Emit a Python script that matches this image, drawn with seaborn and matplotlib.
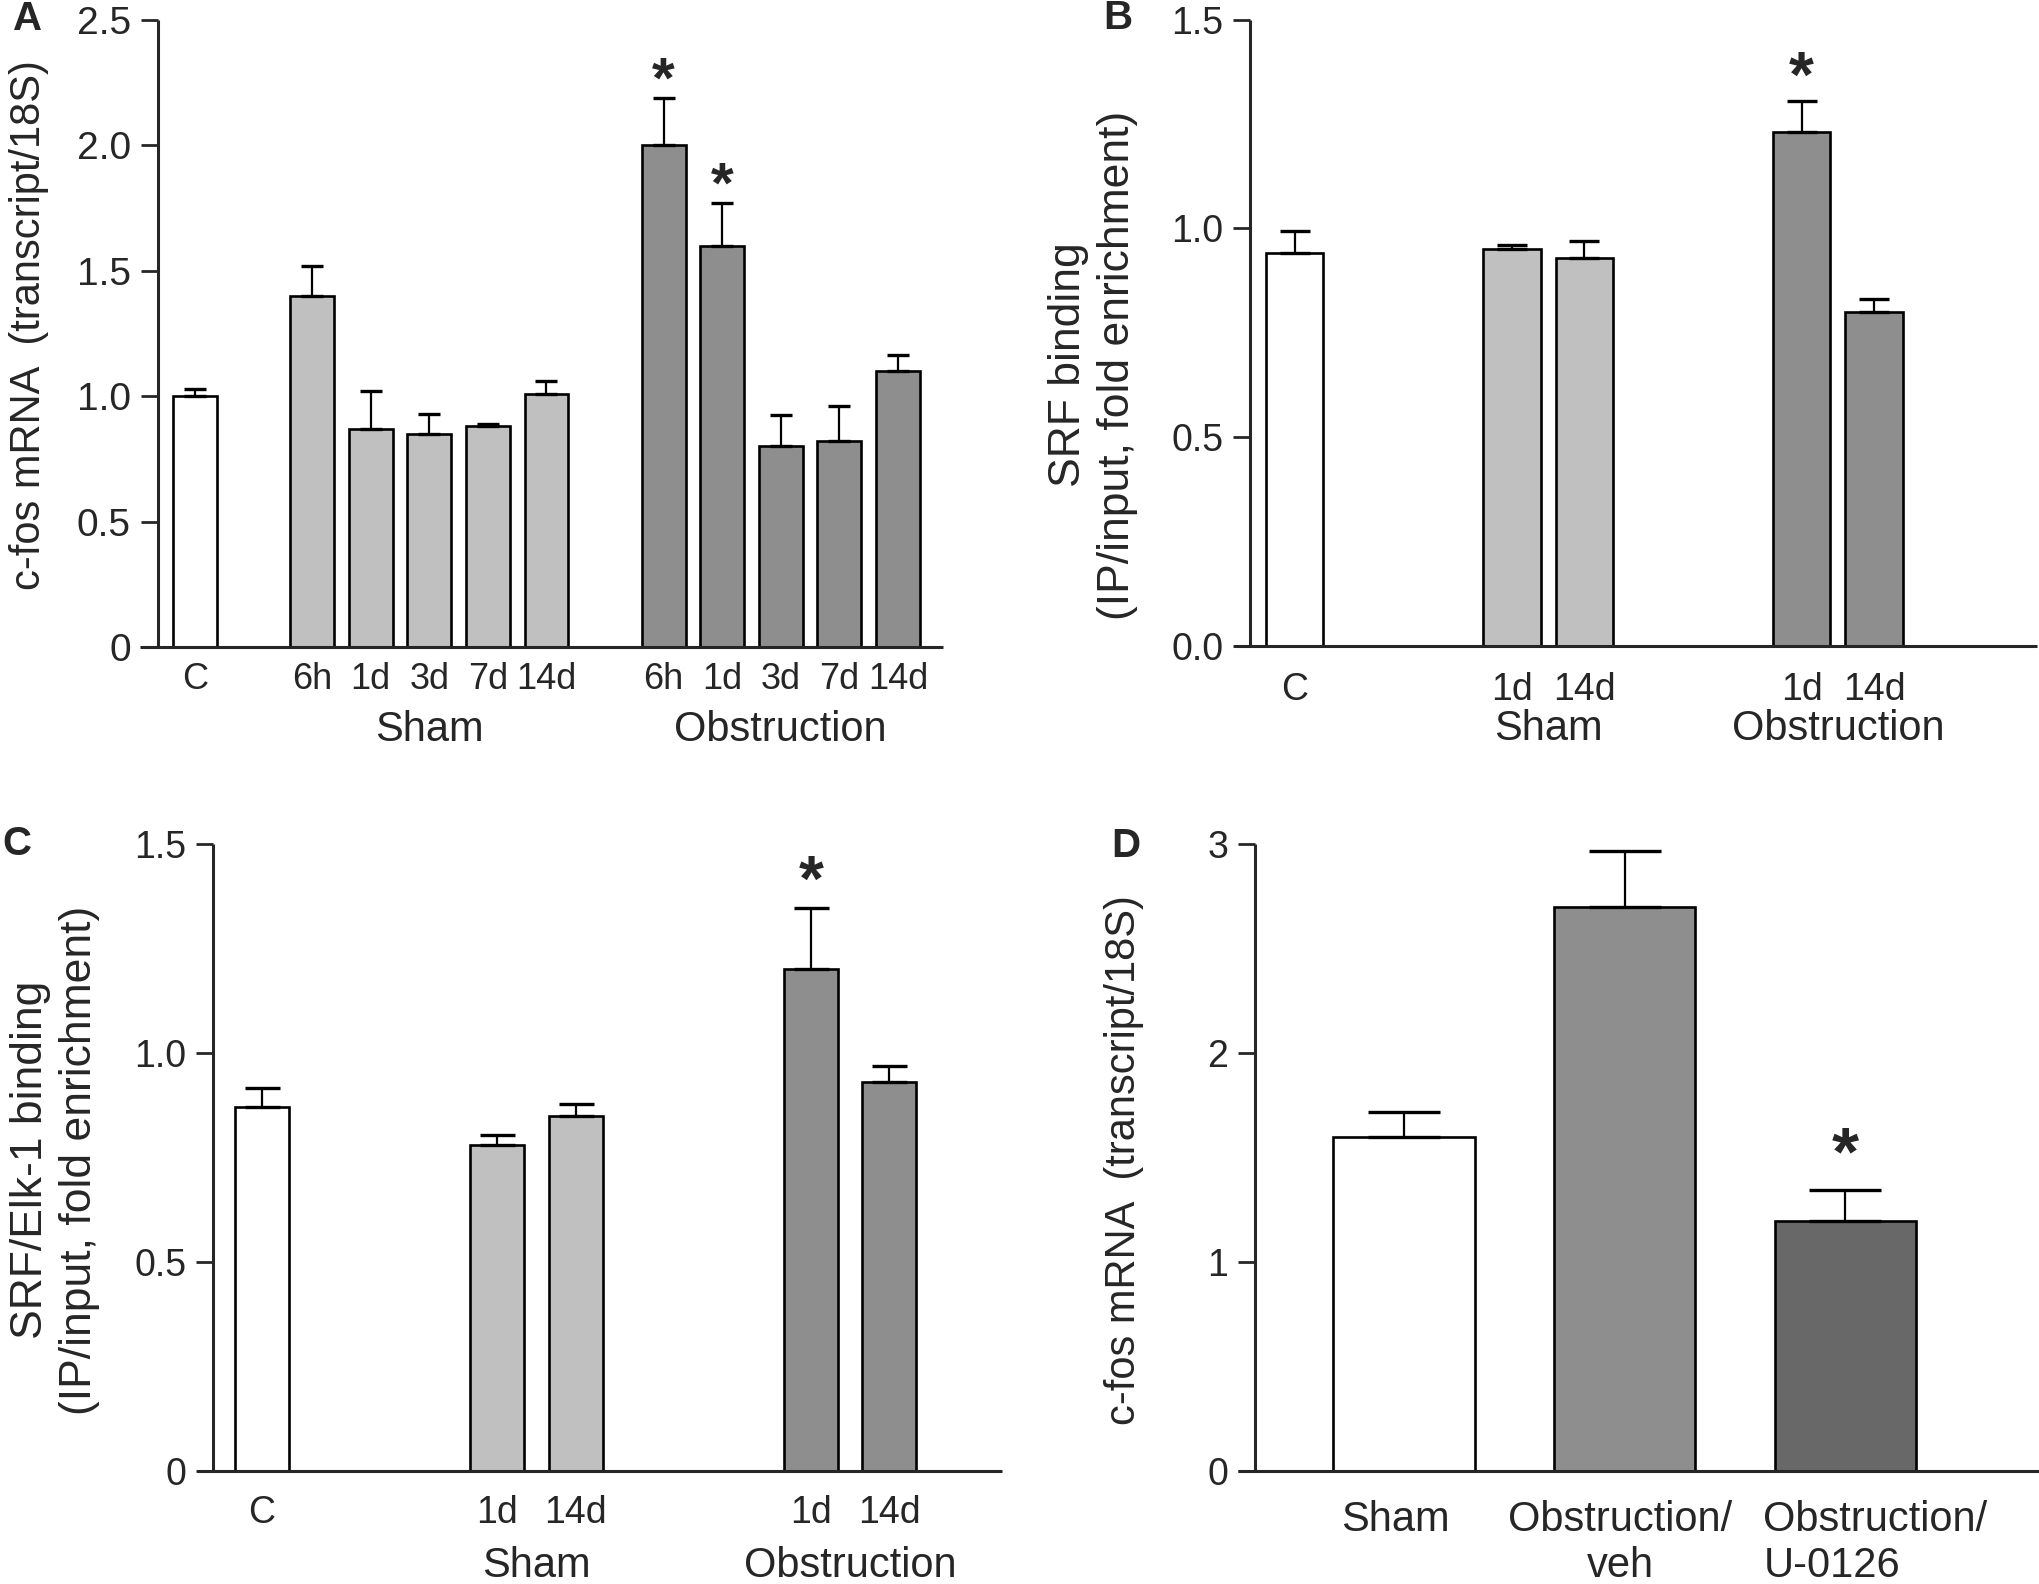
import numpy as np
import pandas as pd
import matplotlib
matplotlib.use("Agg")
import matplotlib.pyplot as plt
import seaborn as sns

# ---------------- data ----------------
# Panel A: c-fos mRNA
a_groups = ["C", "Sham", "Sham", "Sham", "Sham", "Sham",
            "Obstruction", "Obstruction", "Obstruction", "Obstruction", "Obstruction"]
a_labels = ["C", "6h", "1d", "3d", "7d", "14d", "6h", "1d", "3d", "7d", "14d"]
a_mean = [1.00, 1.40, 0.87, 0.85, 0.88, 1.01, 2.00, 1.60, 0.80, 0.82, 1.10]
a_sem = [0.03, 0.12, 0.15, 0.08, 0.01, 0.05, 0.19, 0.17, 0.125, 0.14, 0.064]
a_sig = [False, False, False, False, False, False, True, True, False, False, False]
a_yticks = [0, 0.5, 1.0, 1.5, 2.0, 2.5]
a_yticklabels = ["0", "0.5", "1.0", "1.5", "2.0", "2.5"]

# Panel B: SRF binding
b_groups = ["C", "Sham", "Sham", "Obstruction", "Obstruction"]
b_labels = ["C", "1d", "14d", "1d", "14d"]
b_mean = [0.94, 0.95, 0.93, 1.23, 0.80]
b_sem = [0.053, 0.01, 0.04, 0.076, 0.03]
b_sig = [False, False, False, True, False]
b_yticks = [0.0, 0.5, 1.0, 1.5]
b_yticklabels = ["0.0", "0.5", "1.0", "1.5"]

# Panel C: SRF/Elk-1 binding
c_groups = ["C", "Sham", "Sham", "Obstruction", "Obstruction"]
c_labels = ["C", "1d", "14d", "1d", "14d"]
c_mean = [0.87, 0.78, 0.85, 1.20, 0.93]
c_sem = [0.046, 0.024, 0.029, 0.146, 0.038]
c_sig = [False, False, False, True, False]
c_yticks = [0, 0.5, 1.0, 1.5]
c_yticklabels = ["0", "0.5", "1.0", "1.5"]

# Panel D: c-fos mRNA with inhibitor
d_groups = ["Sham", "Obstruction/veh", "Obstruction/U-0126"]
d_labels = ["Sham", "Obstruction/\nveh", "Obstruction/\nU-0126"]
d_mean = [1.60, 2.70, 1.195]
d_sem = [0.12, 0.267, 0.151]
d_sig = [False, False, True]
d_yticks = [0, 1, 2, 3]
d_yticklabels = ["0", "1", "2", "3"]

# ---------------- style ----------------
sns.set_style("ticks")
plt.rcParams["font.family"] = ["Liberation Sans", "DejaVu Sans"]

W, H = 2040, 1584
fig = plt.figure(figsize=(W / 100, H / 100), dpi=100)
PX = 72 / 100  # points per pixel

LIGHT = "#c0c0c0"
MID = "#8e8e8e"
DARK = "#686868"


def positions(groups, gap):
    pos, p, prev = [], 0, None
    for g in groups:
        if prev is not None:
            p += 1 + (gap if g != prev else 0)
        pos.append(p)
        prev = g
    return pos


def rect(l, r, t, b):
    return [l / W, (H - b) / H, (r - l) / W, (b - t) / H]


def panel(box, groups, labels, mean, sem, sig, pal, gap, width, xlim, yaxis_x,
          ylim, yticks, yticklabels, capsize, star_off, star_fs, xpad, xfs,
          ytfs=27, group_off=None, group_fs=30, label_style=None):
    ax = fig.add_axes(rect(*box))
    pos = positions(groups, gap)
    df = pd.DataFrame({"pos": pos, "mean": mean, "group": groups})
    sns.barplot(data=df, x="pos", y="mean", hue="group", palette=pal,
                native_scale=True, dodge=False, width=width, errorbar=None,
                legend=False, edgecolor="black", linewidth=1.9,
                saturation=1, ax=ax, zorder=2)
    ax.errorbar(pos, mean, yerr=[np.zeros(len(sem)), sem], fmt="none",
                ecolor="black", elinewidth=1.6, capsize=capsize, capthick=2.4,
                zorder=3)
    for p, m, s, flag in zip(pos, mean, sem, sig):
        if flag:
            ax.annotate("*", xy=(p, m + s), xytext=(0, star_off - 0.58 * star_fs),
                        textcoords="offset points", ha="center", va="baseline",
                        fontsize=star_fs, fontweight="bold", annotation_clip=False)
    ax.set_xlim(*xlim)
    ax.set_ylim(*ylim)
    ax.spines["left"].set_position(("data", yaxis_x))
    for s in ["top", "right"]:
        ax.spines[s].set_visible(False)
    for s in ["left", "bottom"]:
        ax.spines[s].set_linewidth(2.2)
        ax.spines[s].set_capstyle("butt")
    ax.set_yticks(yticks)
    ax.set_yticklabels(yticklabels)
    ax.set_xticks(pos)
    ax.tick_params(axis="y", direction="out", length=17 * PX, width=2.0,
                   labelsize=ytfs, pad=7)
    ax.tick_params(axis="x", length=0, labelsize=xfs, pad=xpad)
    if label_style is None:
        ax.set_xticklabels(labels)
        for t in ax.get_xticklabels():
            t.set_verticalalignment("top")
    else:
        ax.set_xticklabels([""] * len(pos))
        for p, lab, (dx, malign) in zip(pos, labels, label_style):
            ax.annotate(lab, xy=(p, 0), xycoords=("data", "axes fraction"),
                        xytext=(dx, -xpad), textcoords="offset points",
                        ha="center", va="top", multialignment=malign,
                        fontsize=xfs, annotation_clip=False)
    ax.set_xlabel("")
    ax.set_ylabel("")
    if group_off is not None:
        uniq = []
        for g in groups:
            if g not in uniq:
                uniq.append(g)
        for g in uniq:
            if g == "C":
                continue
            ps = [p for p, gg in zip(pos, groups) if gg == g]
            ax.annotate(g, xy=(np.mean(ps), 0), xycoords=("data", "axes fraction"),
                        xytext=(0, -group_off), textcoords="offset points",
                        ha="center", va="top", fontsize=group_fs,
                        annotation_clip=False)
    return ax


pal_abc = {"C": "white", "Sham": LIGHT, "Obstruction": MID}
pal_d = {"Sham": "white", "Obstruction/veh": MID, "Obstruction/U-0126": DARK}

# Panel A
panel((140, 943, 20, 647), a_groups, a_labels, a_mean, a_sem, a_sig, pal_abc,
      gap=1, width=0.75, xlim=(-0.94, 12.77), yaxis_x=-0.64, ylim=(0, 2.5),
      yticks=a_yticks, yticklabels=a_yticklabels, capsize=7.6,
      star_off=34 * PX, star_fs=42, xpad=15 * PX, xfs=26, ytfs=28,
      group_off=63 * PX, group_fs=30)

# Panel B
panel((1234, 2037, 19.5, 646), b_groups, b_labels, b_mean, b_sem, b_sig, pal_abc,
      gap=2, width=0.79, xlim=(-0.84, 10.25), yaxis_x=-0.62, ylim=(0, 1.5),
      yticks=b_yticks, yticklabels=b_yticklabels, capsize=10.8,
      star_off=41 * PX, star_fs=46, xpad=26 * PX, xfs=27,
      group_off=63 * PX, group_fs=30)

# Panel C
panel((197, 1002, 844, 1471), c_groups, c_labels, c_mean, c_sem, c_sig, pal_abc,
      gap=2, width=0.69, xlim=(-0.83, 9.44), yaxis_x=-0.625, ylim=(0, 1.5),
      yticks=c_yticks, yticklabels=c_yticklabels, capsize=12.6,
      star_off=45 * PX, star_fs=46, xpad=24 * PX, xfs=27,
      group_off=75 * PX, group_fs=30)

# Panel D
panel((1238, 2040, 844, 1471), d_groups, d_labels, d_mean, d_sem, d_sig, pal_d,
      gap=0, width=0.64, xlim=(-0.753, 2.884), yaxis_x=-0.676, ylim=(0, 3),
      yticks=d_yticks, yticklabels=d_yticklabels, capsize=26,
      star_off=56 * PX, star_fs=50, xpad=29 * PX, xfs=30,
      label_style=[(-6, "center"), (-3, "center"), (22, "left")])

# y labels
def ylab(x, y, s, fs=30, ls=1.25):
    fig.text(x / W, 1 - y / H, s, rotation=90, ha="center", va="center",
             multialignment="center", fontsize=fs, linespacing=ls)

ylab(29, 325, "c-fos mRNA  (transcript/18S)")
ylab(1093, 365, "SRF binding\n(IP/input, fold enrichment)", fs=32)
ylab(55, 1160, "SRF/Elk-1 binding\n(IP/input, fold enrichment)", fs=32)
ylab(1124, 1160, "c-fos mRNA  (transcript/18S)")

# panel letters
for lx, ly, letter in [(28, 19, "A"), (1118, 18, "B"), (17, 844, "C"), (1126, 846, "D")]:
    fig.text(lx / W, 1 - ly / H, letter, ha="center", va="center",
             fontsize=29, fontweight="bold")

fig.savefig("out.png", dpi=100)
